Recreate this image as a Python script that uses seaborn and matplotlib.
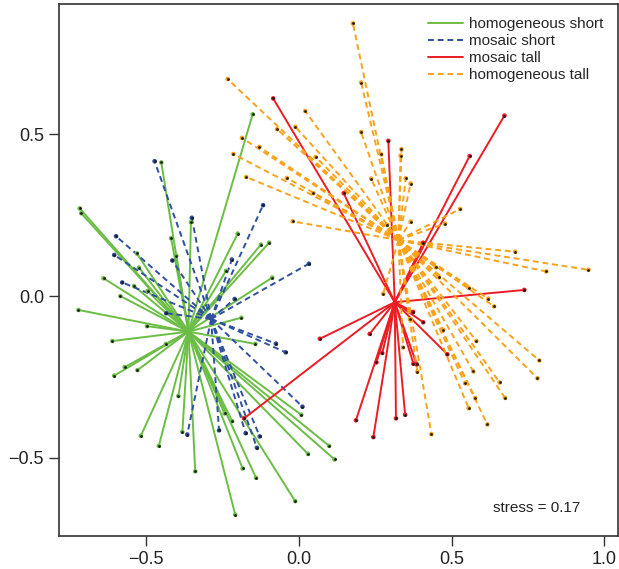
import numpy as np
import pandas as pd
import matplotlib
matplotlib.use("Agg")
import matplotlib.pyplot as plt
import seaborn as sns

# Group names (legend order) and colours
groups = ["homogeneous short", "mosaic short", "mosaic tall", "homogeneous tall"]
colors = ["#6bbd45", "#2f4fa0", "#ec1c24", "#f9a21b"]
dash_styles = ["", (3, 2), "", (3, 2)]

# NMDS group centroids (NMDS1, NMDS2)
centroid_x = [-0.361, -0.287, 0.314, 0.326]
centroid_y = [-0.110, -0.071, -0.019, 0.173]

# Site scores, homogeneous short
hs_x = [-0.151, -0.450, -0.717, -0.712, -0.353, -0.200, -0.418, -0.530, -0.401, -0.238,
        -0.523, -0.639, -0.539, -0.495, -0.584, -0.721, -0.188, -0.497, -0.610, -0.435,
        -0.142, -0.570, -0.528, -0.604, -0.394, 0.008, -0.517, -0.381, -0.243, -0.218,
        -0.458, 0.099, 0.030, 0.117, -0.339, -0.184, -0.140, -0.012, -0.208, -0.097,
        -0.124, -0.087]
hs_y = [0.562, 0.413, 0.271, 0.256, 0.228, 0.193, 0.179, 0.132, 0.125, 0.078,
        0.088, 0.055, 0.031, 0.016, 0.000, -0.043, -0.067, -0.093, -0.139, -0.148,
        -0.148, -0.220, -0.229, -0.246, -0.309, -0.367, -0.432, -0.420, -0.363, -0.387,
        -0.463, -0.463, -0.488, -0.505, -0.542, -0.533, -0.562, -0.634, -0.676, 0.165,
        0.159, 0.057]

# Site scores, mosaic short
ms_x = [-0.472, -0.350, -0.598, -0.604, -0.414, -0.219, -0.117, -0.578, -0.210, 0.033,
        0.012, -0.365, -0.261, -0.174, -0.128, -0.137, -0.075, -0.043, -0.434]
ms_y = [0.417, 0.242, 0.185, 0.127, 0.110, 0.113, 0.281, 0.042, -0.009, 0.100,
        -0.342, -0.428, -0.415, -0.424, -0.434, -0.469, -0.147, -0.174, -0.053]

# Site scores, mosaic tall
mt_x = [-0.084, 0.147, 0.293, 0.673, 0.559, 0.738, 0.069, -0.179, 0.232, 0.273,
        0.254, 0.375, 0.386, 0.486, 0.407, 0.374, 0.187, 0.318, 0.348, 0.244, 0.407]
mt_y = [0.611, 0.318, 0.480, 0.558, 0.433, 0.019, -0.132, -0.378, -0.117, -0.176,
        -0.205, -0.209, -0.211, -0.180, -0.081, -0.049, -0.384, -0.378, -0.367, -0.436, 0.165]

# Site scores, homogeneous tall
ht_x = [-0.233, 0.021, 0.177, 0.204, -0.071, -0.011, -0.186, -0.129, 0.204, 0.336,
        0.333, -0.214, 0.055, 0.270, -0.172, -0.039, 0.237, 0.350, 0.366, 0.048,
        -0.020, 0.366, 0.289, 0.528, 0.478, 0.708, 0.948, 0.810, 0.448, 0.459,
        0.556, 0.620, 0.639, 0.276, 0.363, 0.473, 0.581, 0.787, 0.341, 0.388,
        0.571, 0.544, 0.657, 0.781, 0.577, 0.675, 0.556, 0.617, 0.434]
ht_y = [0.671, 0.572, 0.843, 0.660, 0.516, 0.523, 0.489, 0.461, 0.507, 0.454,
        0.434, 0.439, 0.430, 0.438, 0.368, 0.365, 0.363, 0.364, 0.348, 0.318,
        0.231, 0.230, 0.220, 0.269, 0.224, 0.137, 0.081, 0.076, 0.089, 0.058,
        0.025, -0.008, -0.032, 0.007, -0.072, -0.105, -0.139, -0.199, -0.159, -0.234,
        -0.233, -0.270, -0.267, -0.254, -0.315, -0.315, -0.347, -0.397, -0.427]

stress = 0.17

site_x = [hs_x, ms_x, mt_x, ht_x]
site_y = [hs_y, ms_y, mt_y, ht_y]

# Long-form tables: one row per site, and two rows (centroid, site) per spider leg
point_rows, seg_rows = [], []
seg_id = 0
for g, xs, ys, cx, cy in zip(groups, site_x, site_y, centroid_x, centroid_y):
    for x, y in zip(xs, ys):
        point_rows.append({"group": g, "NMDS1": x, "NMDS2": y})
        seg_rows.append({"seg": seg_id, "group": g, "NMDS1": cx, "NMDS2": cy, "end": 0})
        seg_rows.append({"seg": seg_id, "group": g, "NMDS1": x, "NMDS2": y, "end": 1})
        seg_id += 1
points = pd.DataFrame(point_rows)
segments = pd.DataFrame(seg_rows)

sns.set_style("ticks")
plt.rcParams["font.family"] = ["Liberation Sans", "DejaVu Sans"]

fig = plt.figure(figsize=(6.19, 5.69), dpi=100)
ax = fig.add_axes([0.0947, 0.0573, 0.9029, 0.9357])

palette = dict(zip(groups, colors))
dashes = dict(zip(groups, dash_styles))

sns.lineplot(data=segments, x="NMDS1", y="NMDS2", hue="group", style="group",
             units="seg", estimator=None, sort=False,
             hue_order=groups, style_order=groups,
             palette=palette, dashes=dashes, linewidth=1.4, ax=ax)

# Site markers: coloured rim with a dark centre
sns.scatterplot(data=points, x="NMDS1", y="NMDS2", hue="group", hue_order=groups,
                palette=palette, s=11, linewidth=0, legend=False, ax=ax, zorder=3)
sns.scatterplot(data=points, x="NMDS1", y="NMDS2", color="#1a1a1a",
                s=4, linewidth=0, legend=False, ax=ax, zorder=4)

ax.set_xlim(-0.786, 1.043)
ax.set_ylim(-0.743, 0.903)
ax.set_xticks([-0.5, 0.0, 0.5, 1.0])
ax.set_yticks([-0.5, 0.0, 0.5])
ax.set_xticklabels(["\u22120.5", "0.0", "0.5", "1.0"])
ax.set_yticklabels(["\u22120.5", "0.0", "0.5"])
ax.set_xlabel("")
ax.set_ylabel("")
ax.tick_params(axis="both", labelsize=13, length=7, width=1.0, colors="#333333",
               labelcolor="#222222", direction="out")
for sp in ax.spines.values():
    sp.set_color("#333333")
    sp.set_linewidth(1.2)

handles, labels = ax.get_legend_handles_labels()
ax.legend(handles, labels, loc="upper left", bbox_to_anchor=(0.661, 0.975),
          frameon=False, fontsize=11, handlelength=2.3, handletextpad=0.4,
          labelspacing=0.2, borderpad=0, borderaxespad=0)

ax.text(0.636, -0.656, f"stress = {stress:.2f}", fontsize=11, ha="left", va="center",
        color="#222222")

fig.savefig("out.png", dpi=100)
